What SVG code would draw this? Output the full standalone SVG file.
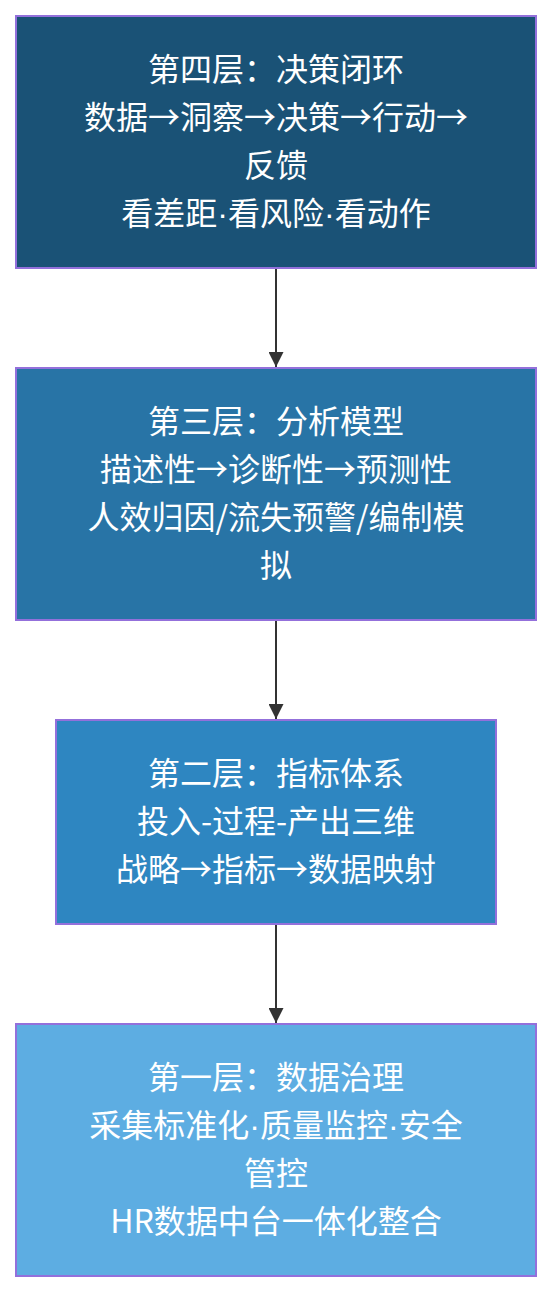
<svg xmlns="http://www.w3.org/2000/svg" width="552" height="1292" viewBox="0 0 552 1292">
<style>
.box{stroke:#9370db;stroke-width:2}
.t{font-family:"Noto Sans CJK SC","Noto Sans",sans-serif;font-size:32px;fill:#ffffff;text-anchor:middle}
.d{font-family:"Liberation Sans","Noto Sans",sans-serif}
.edge{stroke:#333333;stroke-width:2;fill:none}
</style>
<defs>
<marker id="ah" markerWidth="15" markerHeight="15" refX="15" refY="7.5" orient="auto" markerUnits="userSpaceOnUse">
<path d="M0,0 L15,7.5 L0,15 Z" fill="#333333"/>
</marker>
</defs>
<rect width="552" height="1292" fill="#ffffff"/>
<g id="connectors">
<line class="edge" x1="276" y1="269" x2="276" y2="367" marker-end="url(#ah)"/>
<line class="edge" x1="276" y1="621" x2="276" y2="719" marker-end="url(#ah)"/>
<line class="edge" x1="276" y1="925" x2="276" y2="1023" marker-end="url(#ah)"/>
</g>
<g id="layer4">
<rect class="box" x="16" y="16" width="520" height="252" fill="#1a5276"/>
<text class="t" x="276" y="81">第四层：决策闭环</text>
<text class="t" x="276" y="129">数据→洞察→决策→行动→</text>
<text class="t" x="276" y="177">反馈</text>
<text class="t" x="276" y="225">看差距<tspan class="d">·</tspan>看风险<tspan class="d">·</tspan>看动作</text>
</g>
<g id="layer3">
<rect class="box" x="16" y="368" width="520" height="252" fill="#2874a6"/>
<text class="t" x="276" y="433">第三层：分析模型</text>
<text class="t" x="276" y="481">描述性→诊断性→预测性</text>
<text class="t" x="276" y="529">人效归因/流失预警/编制模</text>
<text class="t" x="276" y="577">拟</text>
</g>
<g id="layer2">
<rect class="box" x="56" y="720" width="440" height="204" fill="#2e86c1"/>
<text class="t" x="276" y="785">第二层：指标体系</text>
<text class="t" x="276" y="833">投入-过程-产出三维</text>
<text class="t" x="276" y="881">战略→指标→数据映射</text>
</g>
<g id="layer1">
<rect class="box" x="16" y="1024" width="520" height="252" fill="#5dade2"/>
<text class="t" x="276" y="1089">第一层：数据治理</text>
<text class="t" x="276" y="1137">采集标准化<tspan class="d">·</tspan>质量监控<tspan class="d">·</tspan>安全</text>
<text class="t" x="276" y="1185">管控</text>
<text class="t" x="276" y="1233">HR数据中台一体化整合</text>
</g>
</svg>
